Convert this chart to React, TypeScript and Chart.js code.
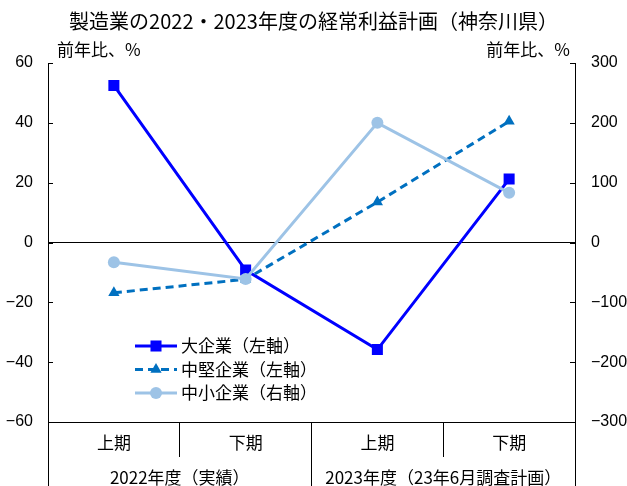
import React, { useEffect, useRef } from 'react';
import { Chart, registerables } from 'chart.js';

Chart.register(...registerables);

const chartTitle = '製造業の2022・2023年度の経常利益計画（神奈川県）';
const axisTitleLeft = '前年比、%';
const axisTitleRight = '前年比、%';
const categories = ['上期', '下期', '上期', '下期'];
const yearGroups = ['2022年度（実績）', '2023年度（23年6月調査計画）'];
const largeLabel = '大企業（左軸）';
const mediumLabel = '中堅企業（左軸）';
const smallLabel = '中小企業（右軸）';
const largeValues = [52.5, -9.2, -35.8, 21.2];
const mediumValues = [-16.8, -12.3, 13.5, 40.5];
const smallValues = [-33, -61, 200, 83];
const leftTicks = [60, 40, 20, 0, -20, -40, -60];
const rightTicks = [300, 200, 100, 0, -100, -200, -300];

const CJK = '"Noto Sans CJK JP", "Noto Sans", sans-serif';
const NUM = '"Liberation Sans", Arial, sans-serif';

const LARGE_COLOR = '#0000FF';
const MEDIUM_COLOR = '#0070C0';
const SMALL_COLOR = '#9DC3E6';

const fmt = (v: number) => (v < 0 ? '\u2212' + Math.abs(v) : String(v));

function drawMarker(ctx: CanvasRenderingContext2D, style: string, x: number, y: number, r: number, color: string) {
  ctx.save();
  ctx.fillStyle = color;
  ctx.beginPath();
  if (style === 'rect') {
    const s = r * Math.SQRT1_2;
    ctx.rect(x - s, y - s, 2 * s, 2 * s);
  } else if (style === 'triangle') {
    let rad = 0;
    ctx.moveTo(x + Math.sin(rad) * r, y - Math.cos(rad) * r);
    rad += (2 * Math.PI) / 3;
    ctx.lineTo(x + Math.sin(rad) * r, y - Math.cos(rad) * r);
    rad += (2 * Math.PI) / 3;
    ctx.lineTo(x + Math.sin(rad) * r, y - Math.cos(rad) * r);
    ctx.closePath();
  } else {
    ctx.arc(x, y, r, 0, Math.PI * 2);
  }
  ctx.fill();
  ctx.restore();
}

const decorPlugin = {
  id: 'decor',
  afterDraw(chart: any) {
    const ctx: CanvasRenderingContext2D = chart.ctx;
    const area = chart.chartArea;
    const yL = chart.scales.y;
    const yR = chart.scales.y1;
    ctx.save();
    // inner tick marks
    ctx.strokeStyle = '#000';
    ctx.lineWidth = 1;
    yL.ticks.forEach((t: any) => {
      const py = Math.round(yL.getPixelForValue(t.value)) + 0.5;
      ctx.beginPath();
      ctx.moveTo(area.left, py);
      ctx.lineTo(area.left + 5, py);
      ctx.stroke();
    });
    yR.ticks.forEach((t: any) => {
      const py = Math.round(yR.getPixelForValue(t.value)) + 0.5;
      ctx.beginPath();
      ctx.moveTo(area.right, py);
      ctx.lineTo(area.right - 5, py);
      ctx.stroke();
    });
    // titles
    ctx.fillStyle = '#000';
    ctx.textBaseline = 'middle';
    ctx.font = '20px ' + CJK;
    ctx.textAlign = 'center';
    ctx.fillText(chartTitle, chart.width / 2, 21);
    ctx.font = '17px ' + CJK;
    ctx.textAlign = 'left';
    ctx.fillText(axisTitleLeft, area.left + 9, 50);
    ctx.textAlign = 'right';
    ctx.fillText(axisTitleRight, area.right - 5, 50);
    // legend
    const items = [
      { label: largeLabel, color: LARGE_COLOR, dash: [] as number[], style: 'rect', r: 7.8 },
      { label: mediumLabel, color: MEDIUM_COLOR, dash: [8, 5], style: 'triangle', r: 6.5 },
      { label: smallLabel, color: SMALL_COLOR, dash: [] as number[], style: 'circle', r: 6 },
    ];
    const lx0 = 135;
    const lx1 = 177;
    const ly0 = 346;
    const lstep = 23.5;
    items.forEach((it, i) => {
      const ly = ly0 + i * lstep;
      ctx.save();
      ctx.strokeStyle = it.color;
      ctx.lineWidth = 3;
      ctx.setLineDash(it.dash);
      ctx.beginPath();
      ctx.moveTo(lx0, ly);
      ctx.lineTo(lx1, ly);
      ctx.stroke();
      ctx.restore();
      drawMarker(ctx, it.style, (lx0 + lx1) / 2, ly, it.r, it.color);
      ctx.fillStyle = '#000';
      ctx.font = '17px ' + CJK;
      ctx.textAlign = 'left';
      ctx.textBaseline = 'middle';
      ctx.fillText(it.label, 181, ly);
    });
    ctx.restore();
  },
};

export default function App() {
  const canvasRef = useRef<HTMLCanvasElement | null>(null);

  useEffect(() => {
    document.body.style.margin = '0';
    const canvas = canvasRef.current;
    if (!canvas) return;
    const chart = new Chart(canvas, {
      type: 'line',
      data: {
        labels: categories,
        datasets: [
          {
            label: largeLabel,
            data: largeValues,
            yAxisID: 'y',
            borderColor: LARGE_COLOR,
            backgroundColor: LARGE_COLOR,
            borderWidth: 3,
            pointStyle: 'rect',
            pointRadius: 7.8,
            pointBorderWidth: 0,
            tension: 0,
            order: 3,
          },
          {
            label: mediumLabel,
            data: mediumValues,
            yAxisID: 'y',
            borderColor: MEDIUM_COLOR,
            backgroundColor: MEDIUM_COLOR,
            borderWidth: 3,
            borderDash: [8, 5],
            pointStyle: 'triangle',
            pointRadius: 6.5,
            pointBorderWidth: 0,
            tension: 0,
            order: 2,
          },
          {
            label: smallLabel,
            data: smallValues,
            yAxisID: 'y1',
            borderColor: SMALL_COLOR,
            backgroundColor: SMALL_COLOR,
            borderWidth: 3,
            pointStyle: 'circle',
            pointRadius: 6,
            pointBorderWidth: 0,
            tension: 0,
            order: 1,
          },
        ],
      },
      options: {
        animation: false,
        responsive: false,
        maintainAspectRatio: false,
        layout: { padding: { top: 63, left: 0, right: 0, bottom: 0 } },
        plugins: {
          legend: { display: false },
          title: { display: false },
          tooltip: { enabled: false },
        },
        scales: {
          x: {
            type: 'category',
            position: 'bottom',
            offset: true,
            grid: { offset: true, drawOnChartArea: false, drawTicks: true, tickLength: 35, color: '#000', lineWidth: 1 },
            border: { display: true, color: '#000', width: 1 },
            ticks: { padding: -25, color: '#000', font: { family: CJK, size: 17 }, maxRotation: 0, autoSkip: false },
            afterFit: (s: any) => { s.height = 35; },
          },
          x2: {
            type: 'category',
            position: 'bottom',
            labels: yearGroups,
            offset: true,
            grid: { offset: true, drawOnChartArea: false, drawTicks: true, tickLength: 29, color: '#000', lineWidth: 1 },
            border: { display: false },
            ticks: { padding: -19, color: '#000', font: { family: CJK, size: 17 }, maxRotation: 0, autoSkip: false },
            afterFit: (s: any) => { s.height = 29; },
          },
          y: {
            type: 'linear',
            position: 'left',
            min: -60,
            max: 60,
            afterBuildTicks: (s: any) => { s.ticks = leftTicks.map((v) => ({ value: v })); },
            ticks: { padding: 15, color: '#000', font: { family: NUM, size: 16 }, callback: (v: any) => fmt(Number(v)) },
            grid: {
              drawTicks: false,
              color: (c: any) => (c.tick && c.tick.value === 0 ? '#000' : 'rgba(0,0,0,0)'),
              lineWidth: 1,
            },
            border: { display: true, color: '#000', width: 1 },
            afterFit: (s: any) => { s.width = 48; },
          },
          y1: {
            type: 'linear',
            position: 'right',
            min: -300,
            max: 300,
            afterBuildTicks: (s: any) => { s.ticks = rightTicks.map((v) => ({ value: v })); },
            ticks: { padding: 16, color: '#000', font: { family: NUM, size: 16 }, callback: (v: any) => fmt(Number(v)) },
            grid: { drawTicks: false, drawOnChartArea: false },
            border: { display: true, color: '#000', width: 1 },
            afterFit: (s: any) => { s.width = 52; },
          },
        },
      } as any,
      plugins: [decorPlugin],
    });
    return () => chart.destroy();
  }, []);

  return (
    <div style={{ width: 627, height: 486 }}>
      <canvas ref={canvasRef} width={627} height={486} style={{ display: 'block', width: 627, height: 486 }} />
    </div>
  );
}
